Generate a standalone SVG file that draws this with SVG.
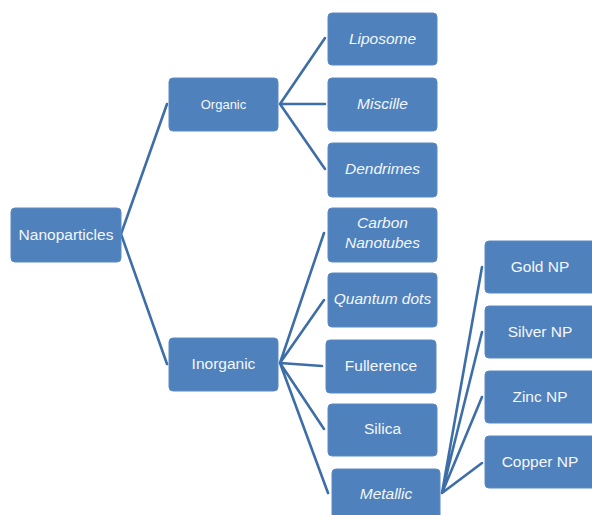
<svg xmlns="http://www.w3.org/2000/svg" width="592" height="515" viewBox="0 0 592 515">
<style>
.box{fill:#4F81BD;stroke:#5A8AC4;stroke-width:1}
.t{font-family:"Liberation Sans",Arial,sans-serif;font-size:15.5px;fill:#F4F7FB;text-anchor:middle}
.i{font-style:italic}
.c{stroke:#3E6EA8;stroke-width:2.6;fill:none;stroke-linecap:round}
</style>
<rect width="592" height="515" fill="#FFFFFF"/>
<g id="connectors">
<path class="c" d="M121,234 L167,104 M121,234 L167,364"/>
<path class="c" d="M280,104 L325,38 M280,104 L325,104 M280,104 L325,169"/>
<path class="c" d="M280,363 L324,233 M280,363 L324,300 M280,363 L322,366 M280,363 L324,429 M280,363 L328,493"/>
<path class="c" d="M442,493 L482,267 M442,493 L482,332 M442,493 L482,397 M442,493 L482,463"/>
</g>
<g id="nanoparticles"><rect class="box" x="11" y="208" width="110" height="54" rx="4"/><text class="t" x="66" y="240">Nanoparticles</text></g>
<g id="organic"><rect class="box" x="169" y="78" width="109" height="53" rx="4"/><text class="t" x="223.5" y="109" style="font-size:13px">Organic</text></g>
<g id="inorganic"><rect class="box" x="169" y="338" width="109" height="53" rx="4"/><text class="t" x="223.5" y="369">Inorganic</text></g>
<g id="liposome"><rect class="box" x="328" y="13" width="109" height="52" rx="4"/><text class="t i" x="382.5" y="44">Liposome</text></g>
<g id="miscille"><rect class="box" x="328" y="78" width="109" height="53" rx="4"/><text class="t i" x="382.5" y="109">Miscille</text></g>
<g id="dendrimes"><rect class="box" x="328" y="143" width="109" height="54" rx="4"/><text class="t i" x="382.5" y="174">Dendrimes</text></g>
<g id="carbon-nanotubes"><rect class="box" x="328" y="208" width="109" height="54" rx="4"/><text class="t i" x="382.5" y="228">Carbon</text><text class="t i" x="382.5" y="248">Nanotubes</text></g>
<g id="quantum-dots"><rect class="box" x="328" y="273" width="109" height="54" rx="4"/><text class="t i" x="382.5" y="304">Quantum dots</text></g>
<g id="fullerence"><rect class="box" x="326" y="340" width="110" height="53" rx="4"/><text class="t" x="381" y="371">Fullerence</text></g>
<g id="silica"><rect class="box" x="328" y="404" width="109" height="52" rx="4"/><text class="t" x="382.5" y="434">Silica</text></g>
<g id="metallic"><rect class="box" x="332" y="469" width="108" height="50" rx="4"/><text class="t i" x="386" y="499">Metallic</text></g>
<g id="gold-np"><rect class="box" x="485" y="241" width="112" height="52" rx="4"/><text class="t" x="540" y="272">Gold NP</text></g>
<g id="silver-np"><rect class="box" x="485" y="306" width="112" height="52" rx="4"/><text class="t" x="540" y="337">Silver NP</text></g>
<g id="zinc-np"><rect class="box" x="485" y="371" width="112" height="52" rx="4"/><text class="t" x="540" y="402">Zinc NP</text></g>
<g id="copper-np"><rect class="box" x="485" y="436" width="112" height="52" rx="4"/><text class="t" x="540" y="467">Copper NP</text></g>
</svg>
